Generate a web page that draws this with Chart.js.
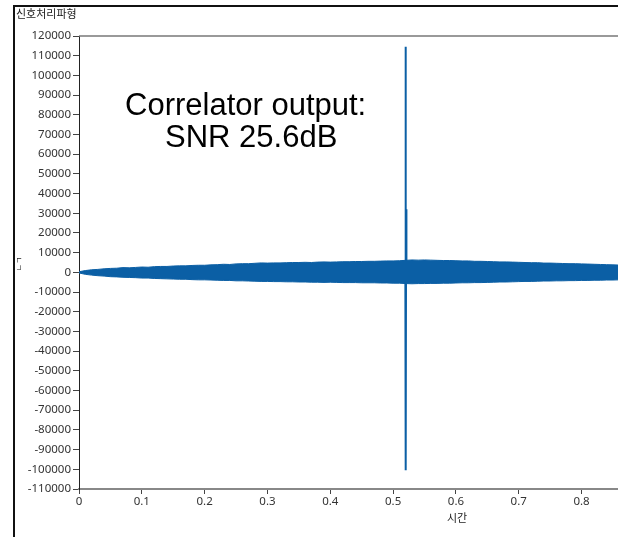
<!DOCTYPE html>
<html>
<head>
<meta charset="utf-8">
<script src="https://cdn.jsdelivr.net/npm/chart.js@4/dist/chart.umd.min.js"></script>
<style>
  html, body { margin: 0; padding: 0; background: #fff; overflow: hidden; }
  #wrap { width: 618px; height: 537px; }
</style>
</head>
<body>
<div id="wrap"><canvas id="signalChart" width="618" height="537"></canvas></div>
<script>
const sampleStep = 0.01;
const upperEnv = [
  300, 900, 1300, 1500, 1800, 2000, 2100, 2400, 2300, 2500,
  2700, 2600, 2900, 3000, 3000, 3200, 3300, 3300, 3500, 3600,
  3600, 3800, 3900, 4100, 4000, 4300, 4400, 4400, 4600, 4800,
  4700, 4800, 4800, 4900, 5000, 5000, 5100, 5000, 5200, 5300,
  5200, 5300, 5400, 5400, 5500, 5500, 5600, 5600, 5700, 5800,
  5800, 5900, 6100, 6300, 6200, 6300, 6200, 6100, 6000, 6000,
  5900, 5800, 5800, 5600, 5600, 5500, 5400, 5300, 5300, 5200,
  5100, 5000, 4900, 4900, 4700, 4700, 4600, 4500, 4400, 4400,
  4300, 4200, 4100, 4000, 3900, 3800, 3700
];
const lowerEnv = [
  -300, -1000, -1400, -1700, -1900, -2200, -2300, -2500, -2600, -2700,
  -2900, -2900, -3100, -3200, -3300, -3400, -3500, -3500, -3700, -3800,
  -3800, -3900, -4000, -4100, -4100, -4300, -4300, -4400, -4500, -4600,
  -4600, -4700, -4700, -4800, -4800, -4900, -4900, -5000, -5000, -5100,
  -5000, -5100, -5200, -5200, -5200, -5300, -5300, -5300, -5400, -5400,
  -5500, -5500, -5700, -5800, -5700, -5700, -5600, -5600, -5500, -5500,
  -5400, -5300, -5300, -5200, -5200, -5100, -5000, -4900, -4900, -4800,
  -4700, -4600, -4600, -4500, -4400, -4400, -4300, -4300, -4200, -4200,
  -4100, -4100, -4000, -4000, -3900, -3900, -3800
];
// the correlation peak
const spikeT = [0.5195, 0.5199, 0.5202, 0.5207, 0.5212];
const spikeV = [0, 114500, -100500, 32000, 0];

const yTicks = { min: -110000, max: 120000, step: 10000 };
const xTicks = { min: 0, max: 0.858, step: 0.1 };

const blue = '#0b5fa5';
const tickFont = { family: '"Noto Sans", sans-serif', size: 11.5 };

const toPoints = (vals) => vals.map((v, i) => ({ x: i * sampleStep, y: v }));

// frame, titles and the annotation text
const decorations = {
  id: 'decorations',
  afterDraw(chart) {
    const { ctx, chartArea } = chart;
    ctx.save();
    ctx.strokeStyle = '#111';
    ctx.lineWidth = 2;
    ctx.beginPath();
    ctx.moveTo(14, 537);
    ctx.lineTo(14, 6);
    ctx.lineTo(618, 6);
    ctx.stroke();

    ctx.strokeStyle = '#777';
    ctx.lineWidth = 1.5;
    ctx.beginPath();
    ctx.moveTo(chartArea.left, chartArea.top);
    ctx.lineTo(chartArea.right, chartArea.top);
    ctx.stroke();

    ctx.fillStyle = '#222';
    ctx.font = '11px "Noto Sans CJK KR", sans-serif';
    ctx.textBaseline = 'middle';
    ctx.textAlign = 'left';
    ctx.fillText('신호처리파형', 16, 14);

    ctx.textAlign = 'center';
    ctx.fillText('시간', 457, 518);

    ctx.save();
    ctx.translate(19, 264);
    ctx.rotate(-Math.PI / 2);
    ctx.font = '8px "Noto Sans CJK KR", sans-serif';
    ctx.fillText('ㄴㄱ', 0, 0);
    ctx.restore();

    ctx.fillStyle = '#000';
    ctx.font = '31px "Liberation Sans", Arial, sans-serif';
    ctx.textAlign = 'left';
    ctx.textBaseline = 'alphabetic';
    ctx.fillText('Correlator output:', 125, 115);
    ctx.fillText('SNR 25.6dB', 165, 147);
    ctx.restore();
  }
};

new Chart(document.getElementById('signalChart'), {
  type: 'line',
  data: {
    datasets: [
      {
        data: toPoints(upperEnv),
        borderColor: blue,
        borderWidth: 1,
        fill: false,
        pointRadius: 0,
        tension: 0,
      },
      {
        data: toPoints(lowerEnv),
        borderColor: blue,
        backgroundColor: blue,
        borderWidth: 1,
        fill: '-1',
        pointRadius: 0,
        tension: 0,
      },
      {
        data: spikeT.map((t, i) => ({ x: t, y: spikeV[i] })),
        borderColor: blue,
        borderWidth: 2,
        fill: false,
        pointRadius: 0,
        tension: 0,
      },
    ],
  },
  options: {
    responsive: false,
    animation: false,
    layout: { padding: { top: 36, left: 0, right: 0, bottom: 0 } },
    plugins: { legend: { display: false }, tooltip: { enabled: false } },
    scales: {
      x: {
        type: 'linear',
        min: xTicks.min,
        max: xTicks.max,
        afterFit: (s) => { s.height = 48; },
        border: { display: true, color: '#888', width: 2 },
        grid: { drawOnChartArea: false, tickLength: 5, tickColor: '#444' },
        ticks: {
          stepSize: xTicks.step,
          includeBounds: false,
          maxRotation: 0,
          padding: 1,
          color: '#333',
          font: tickFont,
          callback: (v) => String(+v.toFixed(1)),
        },
      },
      y: {
        min: yTicks.min,
        max: yTicks.max,
        afterFit: (s) => { s.width = 79; },
        border: { display: true, color: '#222', width: 1 },
        grid: { drawOnChartArea: false, tickLength: 6, tickColor: '#444' },
        ticks: {
          stepSize: yTicks.step,
          padding: 2,
          color: '#333',
          font: tickFont,
          autoSkip: false,
          callback: (v) => String(v),
        },
      },
    },
  },
  plugins: [decorations],
});
</script>
</body>
</html>
